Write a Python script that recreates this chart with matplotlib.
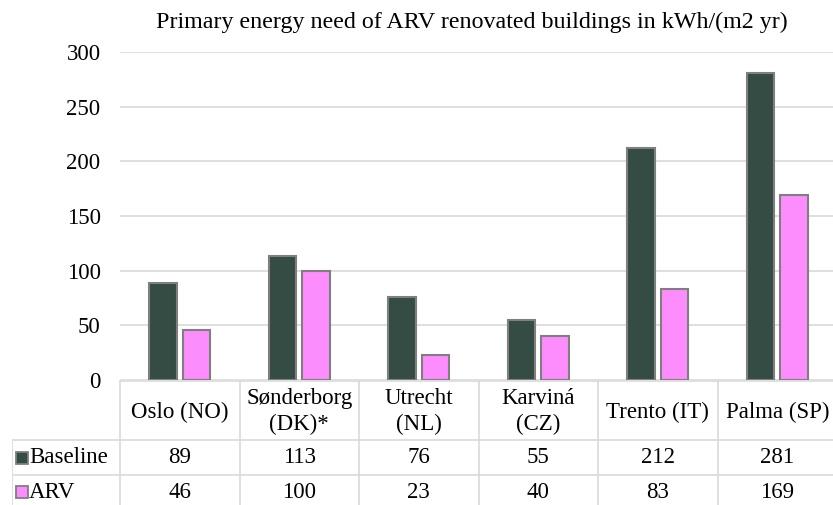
import matplotlib.pyplot as plt
import numpy as np

cities = ['Oslo (NO)', 'Sønderborg\n(DK)*', 'Utrecht\n(NL)', 'Karviná\n(CZ)',
          'Trento (IT)', 'Palma (SP)']
baseline = [89, 113, 76, 55, 212, 281]
arv = [46, 100, 23, 40, 83, 169]
series = ['Baseline', 'ARV']
colors = ['#344c43', '#fd8cfd']
title = 'Primary energy need of ARV renovated buildings in kWh/(m2 yr)'

plt.rcParams['font.family'] = ['Liberation Serif', 'DejaVu Serif']
W, H = 833, 505
fig = plt.figure(figsize=(W / 100, H / 100), dpi=100)


def box(left, top, right, bottom):
    # pixel rectangle -> figure fraction
    return [left / W, 1 - bottom / H, (right - left) / W, (bottom - top) / H]


grid_c = '#d9d9d9'
edge_c = '#7f7f7f'
fs = 16.5

# bar chart
ax = fig.add_axes(box(120, 52, 837, 380))
x = np.arange(len(cities))
w = 0.23
ax.bar(x - 0.14, baseline, w, color=colors[0], edgecolor=edge_c, linewidth=1.5, zorder=3)
ax.bar(x + 0.14, arv, w, color=colors[1], edgecolor=edge_c, linewidth=1.5, zorder=3)
ax.set_xlim(-0.5, len(cities) - 0.5)
ax.set_ylim(0, 300)
ax.set_yticks(range(0, 301, 50))
ax.set_xticks([])
ax.yaxis.grid(True, color=grid_c, linewidth=1.2)
ax.set_axisbelow(True)
for s in ax.spines.values():
    s.set_visible(False)
ax.tick_params(axis='y', length=0, labelsize=fs, pad=14)
fig.text(472 / W, 1 - 22 / H, title, ha='center', va='center', fontsize=17.3)

# data table under the chart
col_w = 119.5
lab_w = 108 / col_w
tax = fig.add_axes(box(12, 380, 837, 510))
tax.set_axis_off()
tax.set_xlim(-0.5 - lab_w, len(cities) - 0.5)
tax.set_ylim(130, 0)
lk = dict(color=grid_c, linewidth=1.2, solid_capstyle='butt')
tax.plot([-0.5, len(cities) - 0.5], [0.5, 0.5], **lk)
for yy in (60, 95):
    tax.plot([-0.5 - lab_w, len(cities) - 0.5], [yy, yy], **lk)
tax.plot([-0.5 - lab_w] * 2, [60, 130], **lk)
for k in range(len(cities) + 1):
    tax.plot([k - 0.5] * 2, [0, 130], **lk)

for i, name in enumerate(cities):
    tax.text(i, 32, name, ha='center', va='center', fontsize=fs, linespacing=1.3)
for row, (vals, yy) in enumerate([(baseline, 77.5), (arv, 112)]):
    for i, v in enumerate(vals):
        tax.text(i, yy, str(v), ha='center', va='center', fontsize=fs)
    mx = -0.5 - lab_w + 10 / col_w
    tax.plot(mx, yy, marker='s', markersize=8, color=colors[row],
             markeredgecolor=edge_c, markeredgewidth=1.3)
    tax.text(mx + 7 / col_w, yy, series[row], ha='left', va='center', fontsize=fs)

fig.savefig('out.png', dpi=100)
